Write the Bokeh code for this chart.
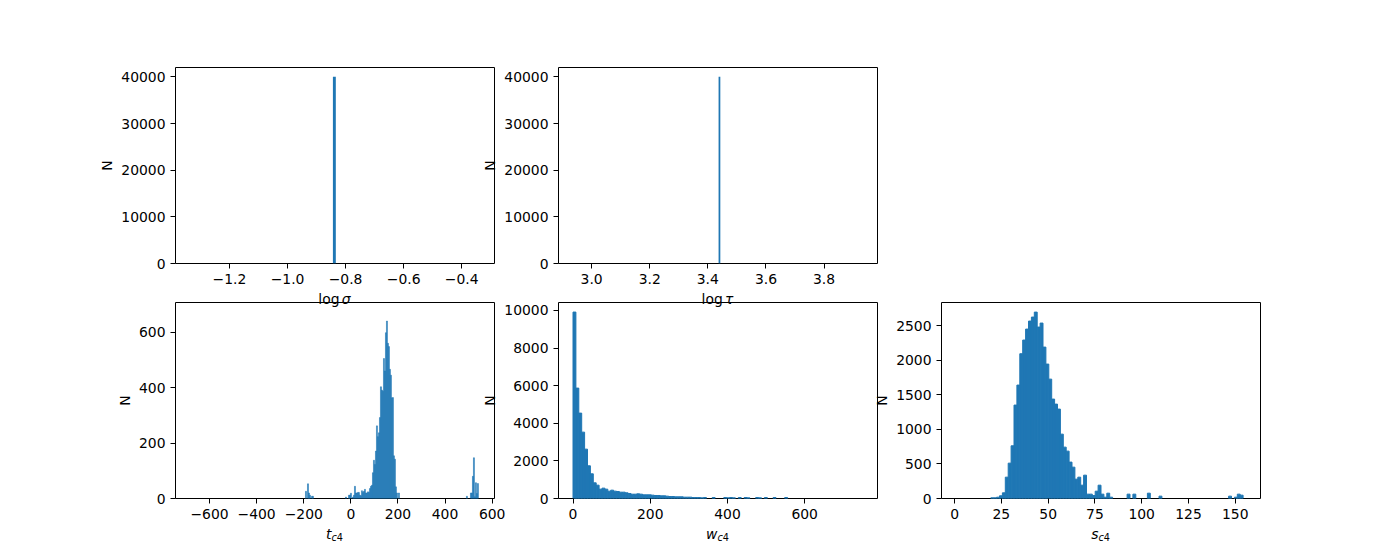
from bokeh.plotting import figure
from bokeh.models import Range1d, FixedTicker, CustomJSTickFormatter, ColumnDataSource, Div
from bokeh.layouts import row, column
from bokeh.embed import file_html
from bokeh.resources import INLINE

BAR = "#1f77b4"
FONT = "DejaVu Sans"
FS = "13.9px"

# ---------------- data ----------------
# log sigma histogram (all samples in one bin)
logsigma_edges = [-0.8437, -0.8337]
logsigma_counts = [40000]
logsigma_xlim = [-1.386, -0.287]
logsigma_xticks = [-1.2, -1.0, -0.8, -0.6, -0.4]
logsigma_xlabels = ["\u22121.2", "\u22121.0", "\u22120.8", "\u22120.6", "\u22120.4"]

# log tau histogram (all samples in one bin)
logtau_edges = [3.437, 3.443]
logtau_counts = [40000]
logtau_xlim = [2.886, 3.984]
logtau_xticks = [3.0, 3.2, 3.4, 3.6, 3.8]
logtau_xlabels = ["3.0", "3.2", "3.4", "3.6", "3.8"]

top_ylim = 42000
top_yticks = [0, 10000, 20000, 30000, 40000]
top_ylabels = ["0", "10000", "20000", "30000", "40000"]

# t_c4 histogram: bin start, bin width, non-empty bin indices and counts
tc4_lo = -689.3
tc4_width = 4.245
tc4_bins = [117, 119, 120, 121, 123, 124,
            157, 160, 161, 162, 164, 165, 166, 167, 168, 169, 170, 171, 172, 173,
            174, 175, 176, 177, 178, 179, 180, 181, 182, 183, 184, 185, 186, 187,
            188, 189, 190, 191, 192, 193, 194, 195, 196, 197, 198, 199, 200, 201,
            202, 203, 204, 205, 206, 207, 208, 210,
            278, 282, 283, 284, 285, 286, 287, 288, 289]
tc4_counts = [26, 53, 20, 12, 8, 8,
              5, 12, 12, 19, 5, 12, 44, 20, 20, 22, 22, 12, 10, 28,
              22, 26, 33, 20, 20, 24, 22, 36, 44, 48, 93, 138, 123, 171,
              262, 223, 237, 292, 403, 391, 387, 505, 460, 598, 640, 560, 548, 466,
              445, 363, 364, 154, 142, 42, 20, 20,
              8, 20, 20, 80, 147, 6, 57, 18, 54]
tc4_xlim = [-744.5, 610.0]
tc4_ylim = 707
tc4_xticks = [-600, -400, -200, 0, 200, 400, 600]
tc4_xlabels = ["\u2212600", "\u2212400", "\u2212200", "0", "200", "400", "600"]
tc4_yticks = [0, 200, 400, 600]
tc4_ylabels = ["0", "200", "400", "600"]

# w_c4 histogram: 100 bins
wc4_lo = 0.0
wc4_width = 7.51
wc4_counts = [9911, 5869, 4539, 3528, 2624, 1738, 1312, 833, 709, 496,
              550, 496, 390, 443, 390, 372, 337, 337, 301, 266,
              230, 230, 248, 230, 195, 195, 195, 177, 160, 160,
              142, 142, 124, 106, 106, 89, 89, 89, 71, 71,
              71, 53, 53, 53, 35, 53, 0, 0, 53, 0,
              0, 0, 53, 35, 53, 35, 0, 53, 0, 53,
              35, 0, 0, 53, 35, 0, 53, 0, 0, 53,
              0, 0, 0, 53, 0, 0, 0, 0, 0, 0,
              0, 0, 0, 0, 0, 0, 0, 0, 0, 0,
              0, 0, 0, 0, 0, 0, 0, 0, 0, 0]
wc4_xlim = [-37.55, 788.55]
wc4_ylim = 10420
wc4_xticks = [0, 200, 400, 600]
wc4_xlabels = ["0", "200", "400", "600"]
wc4_yticks = [0, 2000, 4000, 6000, 8000, 10000]
wc4_ylabels = ["0", "2000", "4000", "6000", "8000", "10000"]

# s_c4 histogram: 100 bins
sc4_lo = 0.75
sc4_width = 1.55
sc4_counts = [0, 0, 0, 0, 0, 0, 0, 0, 0, 0,
              0, 0, 10, 10, 19, 39, 82, 309, 512, 763,
              1353, 1643, 2097, 2295, 2454, 2570, 2628, 2700, 2483, 2541,
              2193, 1947, 1729, 1440, 1367, 1295, 932, 744, 686, 527,
              454, 280, 309, 193, 338, 63, 63, 43, 106, 193,
              63, 19, 77, 19, 0, 0, 0, 0, 0, 63,
              0, 63, 0, 0, 0, 0, 77, 0, 0, 0,
              34, 0, 0, 0, 0, 0, 0, 0, 0, 0,
              0, 0, 0, 0, 0, 0, 0, 0, 0, 0,
              0, 0, 0, 0, 34, 0, 19, 63, 48, 0]
sc4_xlim = [-7.0, 163.5]
sc4_ylim = 2839
sc4_xticks = [0, 25, 50, 75, 100, 125, 150]
sc4_xlabels = ["0", "25", "50", "75", "100", "125", "150"]
sc4_yticks = [0, 500, 1000, 1500, 2000, 2500]
sc4_ylabels = ["0", "500", "1000", "1500", "2000", "2500"]

# x-axis labels (HTML, mathtext look-alike)
SUB = '<sub style="font-size:9.7px;vertical-align:-2px;line-height:0"><i>c</i>4</sub>'
xlabel_logsigma = 'log<i style="margin-left:2.3px">\u03c3</i>'
xlabel_logtau = 'log<i style="margin-left:2.3px">\u03c4</i>'
xlabel_tc4 = '<i>t</i>' + SUB
xlabel_wc4 = '<i>w</i>' + SUB
xlabel_sc4 = '<i>s</i>' + SUB

# ---------------- layout constants (page pixels) ----------------
FW, FH = 319, 196
COL_X = [175, 558, 941]      # frame left edges
ROW_Y = [67, 302]            # frame top edges
LB, RB = 90, 30
TOP2, BOT = 10, 50
LAB_H = 20
LAB_BASE = [303.5, 538.5]    # baselines of x-axis labels
LAB_ASC = 14.8               # baseline offset inside a 20px line box

FMT_CODE = """
let best = 0, bd = Infinity;
for (let i = 0; i < tv.length; i++) {
  const d = Math.abs(tv[i] - tick);
  if (d < bd) { bd = d; best = i; }
}
return tl[best];
"""


def make_fig(xlim, ylim, xticks, xlabels, yticks, ylabels, left, top):
    p = figure(width=left + FW + RB, height=top + FH + BOT,
               min_border_left=left, min_border_right=RB,
               min_border_top=top, min_border_bottom=BOT,
               x_range=Range1d(xlim[0], xlim[1]), y_range=Range1d(0, ylim),
               output_backend="svg", toolbar_location=None)
    p.background_fill_color = "white"
    p.border_fill_color = None
    p.outline_line_color = "black"
    p.outline_line_width = 1
    p.grid.visible = False
    for ax, tks, lbs in ((p.xaxis[0], xticks, xlabels), (p.yaxis[0], yticks, ylabels)):
        ax.ticker = FixedTicker(ticks=tks)
        ax.formatter = CustomJSTickFormatter(args=dict(tv=tks, tl=lbs), code=FMT_CODE)
        ax.axis_line_color = None
        ax.major_tick_line_color = "black"
        ax.major_tick_line_width = 1
        ax.major_tick_in = 0
        ax.major_tick_out = 5
        ax.minor_tick_line_color = None
        ax.major_label_standoff = 5
        ax.major_label_text_font = FONT
        ax.major_label_text_font_size = FS
        ax.major_label_text_color = "black"
    p.yaxis.axis_label = "N"
    p.yaxis.axis_label_text_font = FONT
    p.yaxis.axis_label_text_font_size = FS
    p.yaxis.axis_label_text_font_style = "normal"
    p.yaxis.axis_label_text_color = "black"
    p.yaxis.axis_label_standoff = 3
    return p


def add_bars(p, lefts, rights, counts, lw):
    src = ColumnDataSource(dict(left=lefts, right=rights, top=counts, bottom=[0] * len(counts)))
    p.quad(left="left", right="right", top="top", bottom="bottom", source=src,
           fill_color=BAR, line_color=BAR if lw > 0 else None, line_width=lw)


def make_label(html, margin_left):
    return Div(text=html, width=FW, height=LAB_H, margin=(0, 0, 0, margin_left),
               styles={"font-family": FONT, "font-size": FS, "line-height": "%dpx" % LAB_H,
                       "text-align": "center", "color": "black", "white-space": "nowrap"})


# top-left: log sigma
f1 = make_fig(logsigma_xlim, top_ylim, logsigma_xticks, logsigma_xlabels,
              top_yticks, top_ylabels, COL_X[0], ROW_Y[0])
add_bars(f1, [logsigma_edges[0]], [logsigma_edges[1]], logsigma_counts, 0)

# top-middle: log tau
f2 = make_fig(logtau_xlim, top_ylim, logtau_xticks, logtau_xlabels,
              top_yticks, top_ylabels, LB, ROW_Y[0])
add_bars(f2, [logtau_edges[0]], [logtau_edges[1]], logtau_counts, 0)

# bottom-left: t_c4
f3 = make_fig(tc4_xlim, tc4_ylim, tc4_xticks, tc4_xlabels,
              tc4_yticks, tc4_ylabels, COL_X[0], TOP2)
t_left = [tc4_lo + i * tc4_width for i in tc4_bins]
add_bars(f3, t_left, [l + tc4_width for l in t_left], tc4_counts, 0.5)

# bottom-middle: w_c4
f4 = make_fig(wc4_xlim, wc4_ylim, wc4_xticks, wc4_xlabels,
              wc4_yticks, wc4_ylabels, LB, TOP2)
w_idx = [i for i, c in enumerate(wc4_counts) if c > 0]
w_left = [wc4_lo + i * wc4_width for i in w_idx]
add_bars(f4, w_left, [l + wc4_width for l in w_left], [wc4_counts[i] for i in w_idx], 1)

# bottom-right: s_c4
f5 = make_fig(sc4_xlim, sc4_ylim, sc4_xticks, sc4_xlabels,
              sc4_yticks, sc4_ylabels, LB, TOP2)
s_idx = [i for i, c in enumerate(sc4_counts) if c > 0]
s_left = [sc4_lo + i * sc4_width for i in s_idx]
add_bars(f5, s_left, [l + sc4_width for l in s_left], [sc4_counts[i] for i in s_idx], 1)

# negative margins let neighbouring panels overlap like matplotlib subplots
end1 = COL_X[0] + FW + RB
f2.margin = (0, 0, 0, (COL_X[1] - LB) - end1)
f4.margin = (0, 0, 0, (COL_X[1] - LB) - end1)
end2 = COL_X[1] + FW + RB
f5.margin = (0, 0, 0, (COL_X[2] - LB) - end2)
row1 = row(f1, f2)
row2 = row(f3, f4, f5)

gap = COL_X[1] - COL_X[0] - FW
lab1 = row(make_label(xlabel_logsigma, COL_X[0]), make_label(xlabel_logtau, gap))
lab2 = row(make_label(xlabel_tc4, COL_X[0]), make_label(xlabel_wc4, gap),
           make_label(xlabel_sc4, gap))

# vertical placement: labels come last so they are drawn on top of the panels
row1_end = ROW_Y[0] + FH + BOT
row2_top = ROW_Y[1] - TOP2
row2.margin = (row2_top - row1_end, 0, 0, 0)
row2_end = row2_top + TOP2 + FH + BOT
lab1_top = round(LAB_BASE[0] - LAB_ASC)
lab1.margin = (lab1_top - row2_end, 0, 0, 0)
lab2_top = round(LAB_BASE[1] - LAB_ASC)
lab2.margin = (lab2_top - (lab1_top + LAB_H), 0, 0, 0)

layout = column(row1, row2, lab1, lab2)

open("out.html", "w").write(file_html(layout, INLINE))
